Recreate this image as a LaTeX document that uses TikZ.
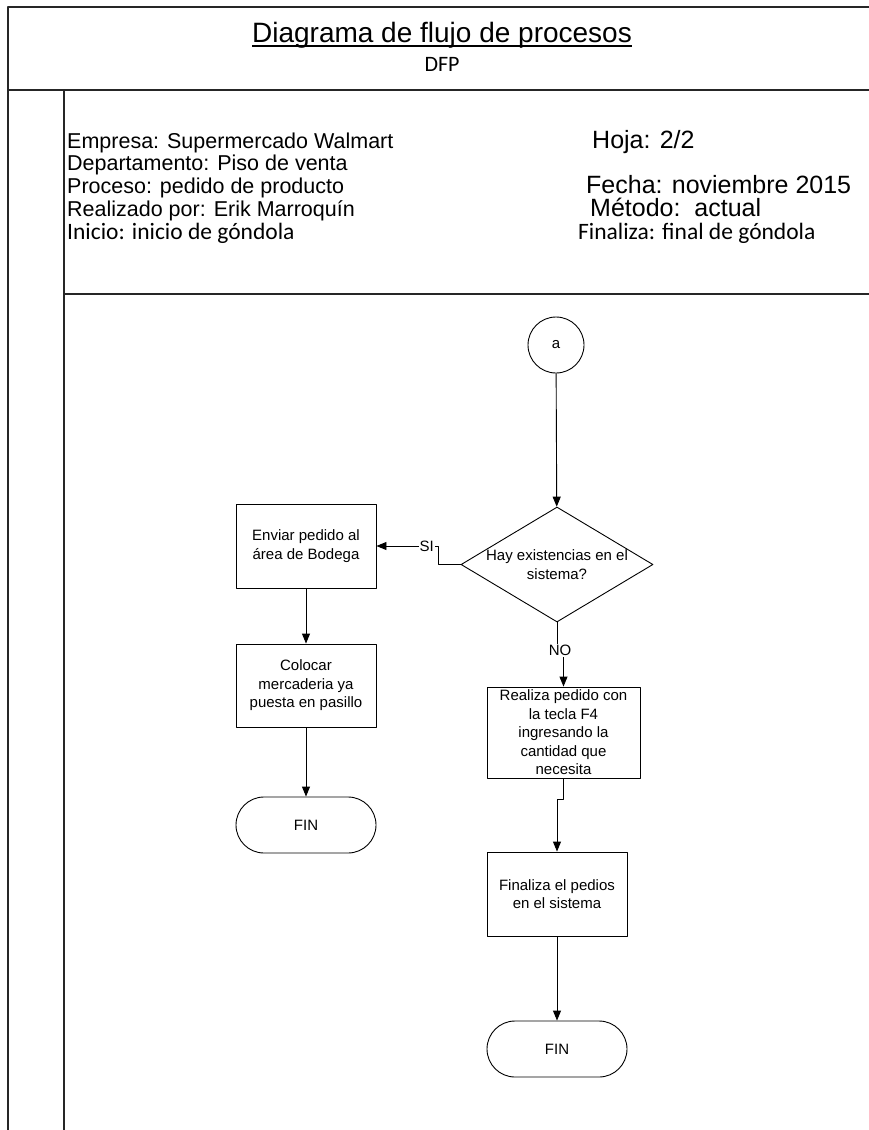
\documentclass[tikz,border=0pt]{standalone}
\usepackage{fontspec}
\setmainfont{Liberation Sans}
\newfontfamily\calfont{Carlito}
\usetikzlibrary{arrows.meta,shapes.geometric,positioning}

\newcommand{\titulosub}[1]{\setbox0\hbox{#1}\rlap{\raisebox{-4.5pt}{\rule{\wd0}{1.6pt}}}\box0}

\tikzset{
  marco/.style={line width=2pt, draw=black!85},
  info/.style={anchor=base west, inner sep=0pt, font=\fontsize{21.5}{25}\selectfont},
  infoder/.style={anchor=base west, inner sep=0pt, font=\fontsize{25}{29}\selectfont},
  infocal/.style={anchor=base west, inner sep=0pt, font=\calfont\fontsize{23.5}{28}\selectfont},
  proc/.style={draw, line width=0.9pt, minimum width=140pt, minimum height=84pt,
    align=center, inner sep=2pt, font=\fontsize{15}{18.5}\selectfont},
  term/.style={proc, rounded corners=28pt, minimum height=56pt},
  decis/.style={draw, diamond, line width=0.9pt, minimum width=192pt,
    minimum height=115pt, inner sep=0pt},
  conec/.style={draw, circle, line width=0.9pt, minimum size=56pt, inner sep=0pt,
    font=\fontsize{15}{18}\selectfont},
  flecha/.style={line width=0.9pt, -{Triangle[length=10pt,width=8pt]}},
  etiq/.style={fill=white, inner sep=1pt, font=\fontsize{15}{18}\selectfont}
}

\begin{document}
\begin{tikzpicture}[x=1pt, y=-1pt, line join=round]
  \useasboundingbox (0,0) rectangle (869,1130);

  % 1. Marco de la hoja
  \draw[marco] (869,7) -- (8,7) -- (8,1130);
  \draw[marco] (8,90) -- (869,90);
  \draw[marco] (64,90) -- (64,1130);
  \draw[marco] (64,294) -- (869,294);

  % 2. Encabezado
  \node[font=\fontsize{28}{32}\selectfont] (titulo) at (442,35)
    {\titulosub{Diagrama de flujo de procesos}};
  \node[font=\calfont\fontsize{22}{26}\selectfont] (dfp) at (442,64) {DFP};

  % 3. Datos del proceso
  \node[info] (empresa) at (67,148) {Empresa: Supermercado Walmart};
  \node[info] (depto) at (67,170) {Departamento: Piso de venta};
  \node[info] (proceso) at (67,193) {Proceso: pedido de producto};
  \node[info] (realizado) at (67,216) {Realizado por: Erik Marroquín};
  \node[infocal] (inicio) at (67,239) {Inicio: inicio de góndola};
  \node[infoder] (hoja) at (592,148) {Hoja: 2/2};
  \node[infoder] (fecha) at (586,193) {Fecha: noviembre 2015};
  \node[infoder] (metodo) at (590,216) {Método:\ \ actual};
  \node[infocal] (finaliza) at (578,239) {Finaliza: final de góndola};

  % 4. Nodos del diagrama
  \node[conec] (a) at (556,345) {a};
  \node[decis, label={[align=center, font=\fontsize{15}{18.5}\selectfont]center:Hay existencias en el\\sistema?}] (dia) at (557,564.5) {};
  \node[proc] (envio) at (306,546) {Enviar pedido al\\área de Bodega};
  \node[proc, minimum height=83pt] (colocar) at (306,685.5) {Colocar\\mercaderia ya\\puesta en pasillo};
  \node[term] (fin1) at (306,825) {FIN};
  \node[proc, minimum width=153pt, minimum height=91pt] (realiza) at (563.5,732.5)
    {Realiza pedido con\\la tecla F4\\ingresando la\\cantidad que\\necesita};
  \node[proc] (finped) at (557,894) {Finaliza el pedios\\en el sistema};
  \node[term] (fin2) at (557,1049) {FIN};

  % 5. Conectores
  \draw[flecha] (a) -- (dia);
  \draw[flecha] (dia.west) -| ++(-22,-18.5) -- node[etiq, pos=0.19] {SI} (envio.east);
  \draw[flecha] (envio) -- (colocar);
  \draw[flecha] (colocar) -- (fin1);
  \draw[flecha] (dia.south) |- ++(3,28) node[etiq] {NO} -| (realiza.north);
  \draw[flecha] (realiza.south) -- ++(0,21) -| (finped.north);
  \draw[flecha] (finped) -- (fin2);
\end{tikzpicture}
\end{document}
